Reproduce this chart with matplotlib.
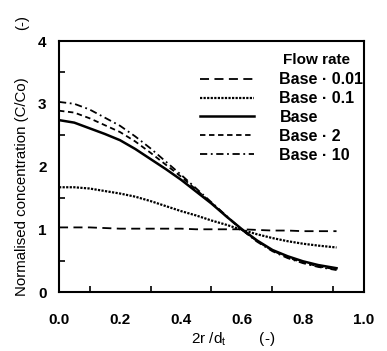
import matplotlib
matplotlib.use("Agg")
import matplotlib.pyplot as plt

plt.rcParams['font.family'] = ['Liberation Sans', 'DejaVu Sans']

x = [0.0, 0.05, 0.1, 0.15, 0.2, 0.25, 0.3, 0.35, 0.4, 0.45, 0.5, 0.55, 0.6, 0.65, 0.7, 0.75, 0.8, 0.85, 0.91]

base_001 = [1.03, 1.03, 1.03, 1.02, 1.01, 1.01, 1.01, 1.01, 1.01, 1.00, 1.00, 1.00, 1.00, 0.99, 0.98, 0.98, 0.97, 0.97, 0.97]
base_01  = [1.67, 1.67, 1.65, 1.61, 1.57, 1.52, 1.45, 1.37, 1.29, 1.22, 1.14, 1.07, 0.99, 0.92, 0.86, 0.81, 0.77, 0.74, 0.71]
base     = [2.74, 2.70, 2.61, 2.52, 2.42, 2.28, 2.12, 1.96, 1.79, 1.60, 1.41, 1.20, 1.00, 0.82, 0.67, 0.57, 0.49, 0.43, 0.38]
base_2   = [2.89, 2.86, 2.77, 2.66, 2.55, 2.40, 2.22, 2.03, 1.84, 1.63, 1.42, 1.20, 0.99, 0.81, 0.66, 0.55, 0.47, 0.41, 0.36]
base_10  = [3.03, 3.00, 2.91, 2.78, 2.65, 2.48, 2.29, 2.08, 1.87, 1.65, 1.43, 1.21, 0.99, 0.80, 0.65, 0.54, 0.46, 0.40, 0.35]

labels = ["Base \u00b7 0.01", "Base \u00b7 0.1", "Base", "Base \u00b7 2", "Base \u00b7 10"]
series = [base_001, base_01, base, base_2, base_10]

xticks = [0.0, 0.2, 0.4, 0.6, 0.8, 1.0]
xticklabels = ["0.0", "0.2", "0.4", "0.6", "0.8", "1.0"]
xminor = [0.1, 0.2, 0.3, 0.4, 0.5, 0.6, 0.7, 0.8, 0.9]
yticks = [0, 1, 2, 3, 4]
yticklabels = ["0", "1", "2", "3", "4"]
yminor = [0.5, 1, 1.5, 2, 2.5, 3, 3.5]

styles = [(0, (5, 3)), (0, (1, 0.6)), '-', (0, (3, 2)), (0, (4, 2, 1, 2))]
widths = [1.3, 1.6, 1.8, 1.3, 1.3]

fig = plt.figure(figsize=(3.87, 3.51), dpi=100)
ax = fig.add_axes([0.1525, 0.168, 0.788, 0.715])

for ys, lab, ls, lw in zip(series, labels, styles, widths):
    ax.plot(x, ys, color='black', linestyle=ls, linewidth=lw, label=lab)

ax.set_xlim(0, 1.0)
ax.set_ylim(0, 4)
ax.set_xticks(xticks)
ax.set_xticklabels(xticklabels, fontweight='bold')
ax.set_xticks(xminor, minor=True)
ax.set_yticks(yticks)
ax.set_yticklabels(yticklabels, fontweight='bold')
ax.set_yticks(yminor, minor=True)
ax.tick_params(axis='both', which='both', direction='in', top=False, right=False)
ax.tick_params(axis='x', which='major', length=0, pad=15, labelsize=11)
ax.tick_params(axis='x', which='minor', length=4, width=1.2)
ax.tick_params(axis='y', which='major', length=0, pad=9, labelsize=11)
ax.tick_params(axis='y', which='minor', length=4, width=1.2)

for sp in ax.spines.values():
    sp.set_linewidth(1.5)

ax.set_xlabel("2r /d$_\\mathregular{t}$        (-)", fontsize=11)
ax.xaxis.set_label_coords(0.57, -0.15)
ax.set_ylabel("Normalised concentration (C/Co)", fontsize=10.8)
ax.yaxis.set_label_coords(-0.10, 0.42)
ax.text(-0.12, 1.045, "(-)", transform=ax.transAxes, rotation=90,
        ha='center', va='bottom', fontsize=10.8)

ax.text(0.955, 0.925, "Flow rate", transform=ax.transAxes, ha='right', va='center',
        fontsize=11, fontweight='bold')

leg = ax.legend(loc='upper right', bbox_to_anchor=(1.035, 0.92), frameon=False,
                prop={'size': 11.5, 'weight': 'bold'},
                handlelength=3.4, handletextpad=1.6,
                labelspacing=0.24, borderpad=0.2)

fig.savefig("out.png", dpi=100)
